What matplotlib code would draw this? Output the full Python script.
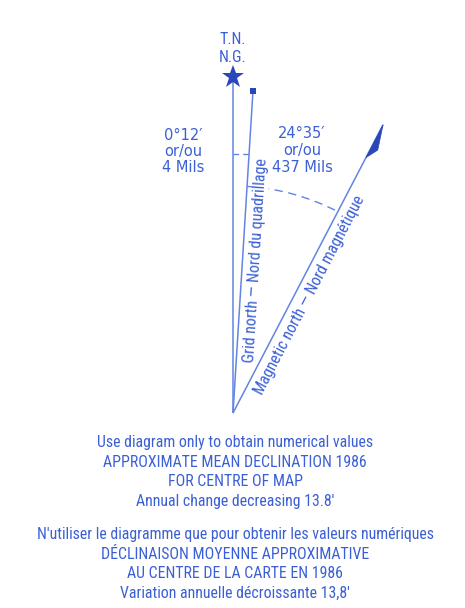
import numpy as np
import matplotlib
matplotlib.use("Agg")
import matplotlib.pyplot as plt
from matplotlib.patches import Arc, Polygon

plt.rcParams['font.family'] = ['Roboto Condensed', 'DejaVu Sans']

# diagram geometry (pixel units, y grows downward)
apex = (233, 413)
line_names = ["true", "grid", "magnetic"]
line_angles = [0.0, 3.55, 27.5]      # degrees east of true north (drawn, not to scale)
line_lengths = [336, 323, 325]
arc_radius = 227
tick_radius = 259

angle_labels_left = ["0°12′", "or/ou", "4 Mils"]
angle_labels_right = ["24°35′", "or/ou", "437 Mils"]
top_labels = ["T.N.", "N.G."]
notes_en = ["Use diagram only to obtain numerical values",
            "APPROXIMATE MEAN DECLINATION 1986",
            "FOR CENTRE OF MAP",
            "Annual change decreasing 13.8′"]
notes_fr = ["N'utiliser le diagramme que pour obtenir les valeurs numériques",
            "DÉCLINAISON MOYENNE APPROXIMATIVE",
            "AU CENTRE DE LA CARTE EN 1986",
            "Variation annuelle décroissante 13,8′"]

txt_col = '#3b60d5'
ln_col = '#6285e2'
dark = '#2b46b8'

fig = plt.figure(figsize=(4.65, 6.08), dpi=100)
ax = fig.add_axes([0, 0, 1, 1])
ax.set_xlim(0, 465)
ax.set_ylim(608, 0)
ax.axis('off')

def end_point(ang, length):
    a = np.radians(ang)
    return apex[0] + length * np.sin(a), apex[1] - length * np.cos(a)

ends = {}
for name, ang, L in zip(line_names, line_angles, line_lengths):
    x1, y1 = end_point(ang, L)
    ends[name] = (x1, y1)
    ax.plot([apex[0], x1], [apex[1], y1], color=ln_col, lw=1.1, solid_capstyle='butt', zorder=2)

# star on true north, square on grid north
tx, ty = ends["true"]
ax.plot(tx, ty, marker='*', color=dark, markersize=17, markeredgewidth=0, zorder=4)
gx, gy = ends["grid"]
ax.plot(gx, gy, marker='s', color=dark, markersize=4.5, markeredgewidth=0, zorder=4)

# half arrow head on magnetic north
mx, my = ends["magnetic"]
a = np.radians(line_angles[2])
ux, uy = np.sin(a), -np.cos(a)
bx, by = mx - 37 * ux, my - 37 * uy
px, py = np.cos(a), np.sin(a)
rx, ry = bx + 12 * ux + 7 * px, by + 12 * uy + 7 * py
ax.add_patch(Polygon([(mx, my), (bx, by), (rx, ry)], closed=True,
                     facecolor=dark, edgecolor=dark, lw=0.5, zorder=4))

# dashed arc between grid and magnetic
arc = Arc(apex, 2 * arc_radius, 2 * arc_radius, angle=0,
          theta1=-90 + line_angles[1], theta2=-90 + line_angles[2],
          color=ln_col, lw=1.0, ls=(0, (6, 4)), zorder=1)
ax.add_patch(arc)
# small dashed tick between true and grid
g2x, g2y = end_point(line_angles[1], tick_radius)
ax.plot([apex[0], g2x], [g2y, g2y], color=ln_col, lw=1.0, ls=(0, (4, 3)), zorder=1)

# labels
ax.text(233, 40, top_labels[0], ha='center', va='center', color=txt_col, fontsize=11.5)
ax.text(233, 57, top_labels[1], ha='center', va='center', color=txt_col, fontsize=11.5)
for i, s in enumerate(angle_labels_left):
    ax.text(183, 135 + 16.5 * i, s, ha='center', va='center', color=txt_col,
            fontsize=10.5, family=['DejaVu Sans'])
for i, s in enumerate(angle_labels_right):
    ax.text(302, 134 + 16.5 * i, s, ha='center', va='center', color=txt_col,
            fontsize=10.5, family=['DejaVu Sans'])

ax.text(256, 260, "Grid north — Nord du quadrillage", rotation=90 - line_angles[1],
        ha='center', va='center', rotation_mode='anchor', color=txt_col, fontsize=11.5,
        bbox=dict(facecolor='white', edgecolor='none', pad=0.5), zorder=3)
ax.text(310, 295, "Magnetic north — Nord magnétique", rotation=90 - line_angles[2],
        ha='center', va='center', rotation_mode='anchor', color=txt_col, fontsize=11.5,
        zorder=3)

for i, s in enumerate(notes_en):
    ax.text(235, 443 + 19.5 * i, s, ha='center', va='center', color=txt_col, fontsize=11.4)
for i, s in enumerate(notes_fr):
    ax.text(235, 535 + 19.3 * i, s, ha='center', va='center', color=txt_col, fontsize=11.4)

fig.savefig("out.png", dpi=100)
